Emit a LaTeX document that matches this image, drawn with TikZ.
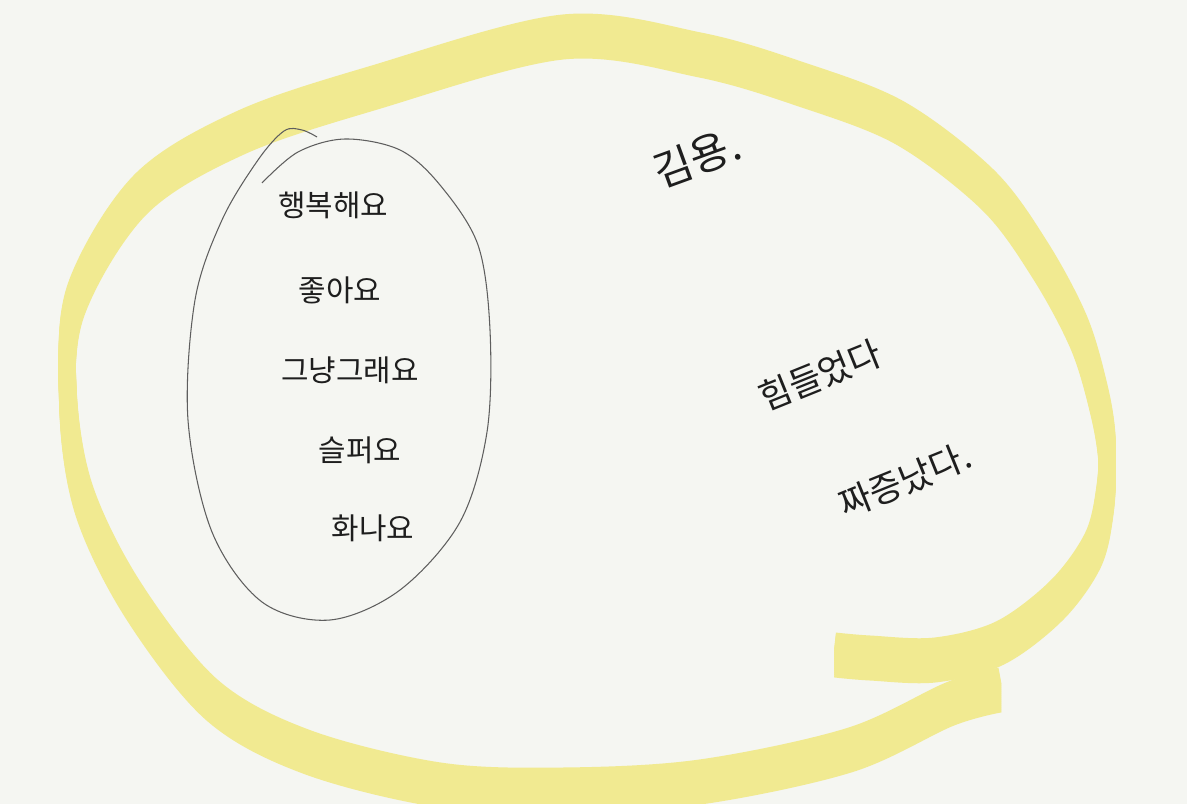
\documentclass[tikz,border=0pt]{standalone}
\usepackage{fontspec}
\newfontfamily\kofont{Noto Sans CJK KR}
\usepackage{tikz}
\usetikzlibrary{positioning}
\definecolor{Paper}{HTML}{F5F6F2}
\definecolor{Marker}{HTML}{F1EA91}
\definecolor{Ink}{HTML}{1E1E1E}
\definecolor{Pencil}{HTML}{5E5E5E}
\tikzset{
 mood/.style={text=Ink,font=\kofont\fontsize{17}{20}\selectfont,inner sep=1pt},
 note/.style={mood,font=\kofont\fontsize{20}{24}\selectfont},
 highlight/.style={draw=Marker,line width=0.34cm,line cap=butt,line join=round},
 ring/.style={draw=Pencil,line width=0.6pt}
}
\begin{document}
\begin{tikzpicture}[x=0.02cm,y=-0.02cm]
\fill[Paper] (0,0) rectangle (1187,804);
\useasboundingbox (0,0) rectangle (1187,804);
% yellow loop, flat marker tip
\foreach \dy in {-14,-12,...,14}
 \draw[highlight,yshift=\dy*0.02cm] plot[smooth,tension=0.55] coordinates {(1000,690) (950,704)
  (850,750) (700,782) (563,790) (440,785) (307,752) (212,700) (133,600) (84,500) (68,400)
  (76,300) (140,195) (240,133) (373,88) (563,37) (700,55) (800,84) (900,123) (988,190)
  (1040,260) (1079,333) (1099,400) (1107,450) (1105,500) (1093,550) (1057,600) (1000,643)
  (935,660) (870,658) (835,655)};
% pencil ring round the list
\draw[ring] plot[smooth,tension=0.55] coordinates {(262,183) (298,152) (345,139) (400,150)
 (440,185) (478,245) (490,330) (487,432) (460,522) (400,590) (330,620) (262,602) (212,532)
 (188,420) (195,300) (222,220) (258,160) (284,131) (302,130) (317,137)};
% list of moods
\node[mood] (happy) at (333,205) {행복해요};
\node[mood] (good) at (340,290) {좋아요};
\node[mood] (soso) at (350,370) {그냥그래요};
\node[mood] (sad) at (360,450) {슬퍼요};
\node[mood] (angry) at (373,528) {화나요};
% notes on the right
\node[note,font=\kofont\fontsize{24}{28}\selectfont,rotate=20] (name) at (697,158) {김용.};
\node[note,rotate=22] (hard) at (820,375) {힘들었다};
\node[note,rotate=22] (annoyed) at (905,480) {짜증났다.};
\end{tikzpicture}
\end{document}
